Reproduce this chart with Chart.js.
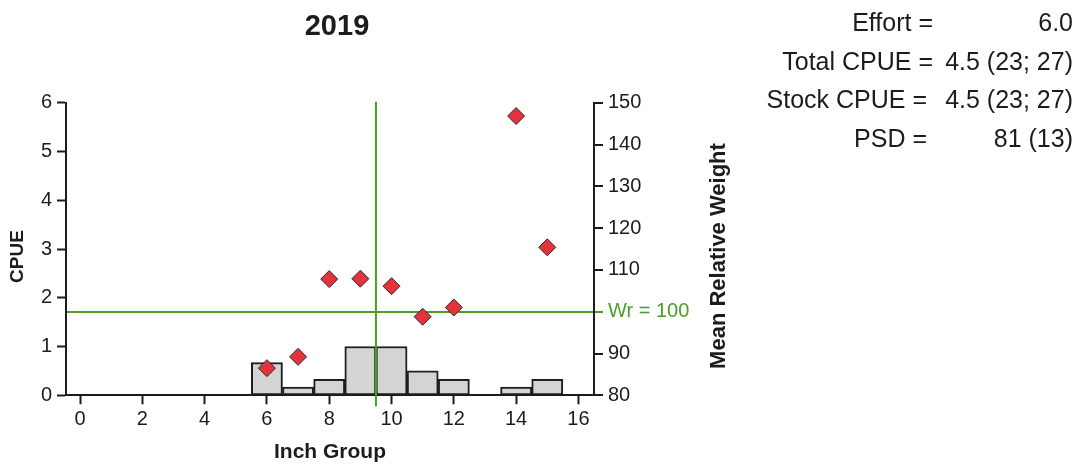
<!DOCTYPE html>
<html>
<head>
<meta charset="utf-8">
<title>2019 CPUE and Mean Relative Weight by Inch Group</title>
<script src="https://cdn.jsdelivr.net/npm/chart.js@4/dist/chart.umd.min.js"></script>
<style>
  html, body { margin: 0; padding: 0; background: #ffffff; }
  #wrap { position: relative; width: 1082px; height: 466px; }
</style>
</head>
<body>
<div id="wrap"><canvas id="chart" width="1082" height="466"></canvas></div>
<script>
// Survey year
const yearLabel = '2019';

// Catch per unit effort by inch group (bars, left axis)
const inchGroups = [6, 7, 8, 9, 10, 11, 12, 14, 15];
const cpue = [0.67, 0.17, 0.33, 1.0, 1.0, 0.5, 0.33, 0.17, 0.33];

// Mean relative weight by inch group (diamonds, right axis)
const meanWr = [86.5, 89.2, 107.8, 107.9, 106.1, 98.8, 101.0, 146.8, 115.4];

// Tick labels
const xTicks = [0, 2, 4, 6, 8, 10, 12, 14, 16];
const cpueTicks = [0, 1, 2, 3, 4, 5, 6];
const wrTicks = [80, 90, 100, 110, 120, 130, 140, 150];

// Reference marks
const wrTarget = 100;
const lengthMark = 9.5;

// Summary statistics
const statLabels = ['Effort =', 'Total CPUE =', 'Stock CPUE =', 'PSD ='];
const statValues = ['6.0', '4.5 (23; 27)', '4.5 (23; 27)', '81 (13)'];

const GREEN = '#4a9e26';
const INK = '#1c1c1c';
const FONT = '"Liberation Sans", Arial, Helvetica, sans-serif';

Chart.defaults.font.family = FONT;
Chart.defaults.color = INK;

const fixedTicks = (values) => (scale) => {
  scale.ticks = values.map(v => ({ value: v }));
};

// Extra text and the length marker line
const annotations = {
  id: 'annotations',
  afterDatasetsDraw(chart) {
    const { ctx, chartArea, scales } = chart;
    ctx.save();

    // vertical marker at the length threshold
    const xm = scales.x.getPixelForValue(lengthMark);
    ctx.strokeStyle = GREEN;
    ctx.lineWidth = 2;
    ctx.beginPath();
    ctx.moveTo(xm, chartArea.top - 1);
    ctx.lineTo(xm, chartArea.bottom + 11);
    ctx.stroke();

    // title
    ctx.fillStyle = INK;
    ctx.font = 'bold 29px ' + FONT;
    ctx.textAlign = 'center';
    ctx.textBaseline = 'alphabetic';
    ctx.fillText(yearLabel, 337, 35);

    // rotated axis titles
    ctx.textBaseline = 'middle';
    ctx.save();
    ctx.translate(18, 256.5);
    ctx.rotate(-Math.PI / 2);
    ctx.font = 'bold 19px ' + FONT;
    ctx.fillText('CPUE', 0, 0);
    ctx.restore();

    ctx.save();
    ctx.translate(719, 256);
    ctx.rotate(-Math.PI / 2);
    ctx.font = 'bold 22px ' + FONT;
    ctx.fillText('Mean Relative Weight', 0, 0);
    ctx.restore();

    // summary block
    ctx.font = '25px ' + FONT;
    ctx.textBaseline = 'alphabetic';
    ctx.textAlign = 'right';
    const baselines = [30.7, 69.5, 108.3, 146.7];
    const labelRight = [933, 933, 927, 927];
    statLabels.forEach((t, i) => ctx.fillText(t, labelRight[i], baselines[i]));
    statValues.forEach((t, i) => ctx.fillText(t, 1073, baselines[i]));

    ctx.restore();
  }
};

new Chart(document.getElementById('chart'), {
  type: 'bar',
  data: {
    datasets: [
      {
        type: 'scatter',
        label: 'Mean Wr',
        data: inchGroups.map((g, i) => ({ x: g, y: meanWr[i] })),
        yAxisID: 'y2',
        order: 0,
        pointStyle: 'rectRot',
        pointRadius: 8.5,
        pointHoverRadius: 8.5,
        backgroundColor: '#e5333d',
        borderColor: '#2a2a2a',
        borderWidth: 1
      },
      {
        type: 'bar',
        label: 'CPUE',
        data: inchGroups.map((g, i) => ({ x: g, y: cpue[i] })),
        yAxisID: 'y',
        order: 1,
        backgroundColor: '#d4d4d4',
        borderColor: '#1e1e1e',
        borderWidth: 2,
        borderSkipped: false,
        barPercentage: 1,
        categoryPercentage: 1
      }
    ]
  },
  options: {
    responsive: false,
    animation: false,
    events: [],
    layout: { padding: { left: 0, right: 388, top: 102.7, bottom: 0 } },
    plugins: {
      legend: { display: false },
      tooltip: { enabled: false },
      title: { display: false }
    },
    scales: {
      x: {
        type: 'linear',
        position: 'bottom',
        offset: false,
        min: -0.45,
        max: 16.5,
        afterBuildTicks: fixedTicks(xTicks),
        afterFit(s) { s.height = 70.7; },
        grid: { offset: false, drawOnChartArea: false, tickLength: 9, tickColor: INK, tickWidth: 2 },
        border: { color: INK, width: 2 },
        ticks: { font: { size: 20 }, color: INK, padding: 3, maxRotation: 0, autoSkip: false },
        title: {
          display: true,
          text: 'Inch Group',
          font: { size: 21, weight: 'bold' },
          color: INK,
          padding: { top: 0, bottom: 0.9 }
        }
      },
      y: {
        type: 'linear',
        position: 'left',
        min: 0,
        max: 6,
        afterBuildTicks: fixedTicks(cpueTicks),
        afterFit(s) { s.width = 66; },
        grid: { drawOnChartArea: false, tickLength: 9, tickColor: INK, tickWidth: 2 },
        border: { color: INK, width: 2 },
        ticks: { font: { size: 20 }, color: INK, padding: 5 }
      },
      y2: {
        type: 'linear',
        position: 'right',
        min: 80,
        max: 150,
        afterBuildTicks: fixedTicks(wrTicks),
        afterFit(s) { s.width = 100; },
        grid: {
          drawOnChartArea: true,
          lineWidth: 2,
          color: (c) => (c.tick && c.tick.value === wrTarget ? GREEN : 'rgba(0,0,0,0)'),
          tickLength: 9,
          tickWidth: 2,
          tickColor: (c) => (c.tick && c.tick.value === wrTarget ? GREEN : INK)
        },
        border: { color: INK, width: 2 },
        ticks: {
          font: { size: 20 },
          padding: 5,
          color: (c) => (c.tick && c.tick.value === wrTarget ? GREEN : INK),
          callback: (v) => (v === wrTarget ? 'Wr = ' + v : v)
        }
      }
    }
  },
  plugins: [annotations]
});
</script>
</body>
</html>
